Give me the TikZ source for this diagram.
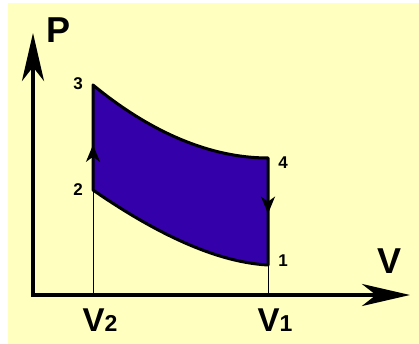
\documentclass[tikz,border=0pt]{standalone}
\usepackage{fontspec}
\setmainfont{Liberation Sans}
\usetikzlibrary{arrows.meta,calc}
\definecolor{bgyellow}{RGB}{255,255,192}
\definecolor{cycleblue}{RGB}{51,0,170}

\begin{document}
\begin{tikzpicture}[x=1pt,y=1pt,
  numlbl/.style={font=\bfseries\fontsize{17}{17}\selectfont, inner sep=0pt},
  axislbl/.style={font=\bfseries\fontsize{36}{36}\selectfont, inner sep=0pt},
  vollbl/.style={font=\bfseries\fontsize{33}{33}\selectfont, inner sep=0pt},
  flowarrow/.style={line width=2pt, -{Stealth[length=17pt 0,width=14pt 0,inset=5pt]}},
  axisline/.style={line width=4pt, -{Stealth[length=48pt,width=22pt,inset=14pt]}}]
\useasboundingbox (0,0) rectangle (419,344);
\fill[bgyellow] (8,0) rectangle (419,341);
% axes
\coordinate (O) at (33,49);
\coordinate (xend) at (410,49);
\coordinate (yend) at (33,311);
\draw[axisline] ($(O)+(-2,0)$) -- (xend);
\draw[axisline] ($(O)+(0,-2)$) -- (yend);
\node[axislbl] (P) at (59,314) {P};
\node[axislbl] (V) at (389,83) {V};
% corners of the cycle
\coordinate (p1) at (268,79);
\coordinate (p2) at (93,154);
\coordinate (p3) at (93,259);
\coordinate (p4) at (268,186);
\coordinate (v1) at (268,49);
\coordinate (v2) at (93,49);
\draw[line width=1pt] (v2) -- (p2);
\draw[line width=1pt] (v1) -- (p1);
\filldraw[fill=cycleblue, line width=3pt, line join=round]
  (p2) -- (p3) .. controls (150,212) and (210,186) .. (p4)
  -- (p1) .. controls (210,82) and (145,118) .. (p2) -- cycle;
\draw[flowarrow] (p2) -- ($(p2)!0.43!(p3)$);
\draw[flowarrow] (p4) -- ($(p4)!0.52!(p1)$);
% labels
\node[numlbl] (n1) at (283,83) {1};
\node[numlbl] (n2) at (78,154) {2};
\node[numlbl] (n3) at (78,260) {3};
\node[numlbl] (n4) at (283,181) {4};
\node[vollbl] (V2) at (100,24) {V{\fontsize{23}{23}\selectfont 2}};
\node[vollbl] (V1) at (275,24) {V{\fontsize{23}{23}\selectfont 1}};
\end{tikzpicture}
\end{document}
